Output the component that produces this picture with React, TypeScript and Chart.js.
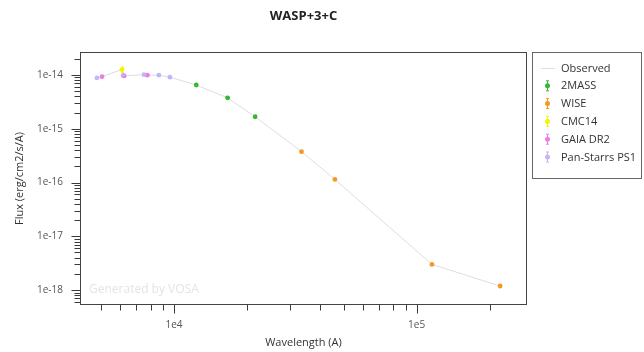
import React, { useEffect, useRef } from 'react';
import { Chart, registerables } from 'chart.js';

Chart.register(...registerables);

const FONT = '"Open Sans", sans-serif';

// ---- Data (wavelength in Å, flux in erg/cm2/s/A) ----
const chartTitle = 'WASP+3+C';
const xTitle = 'Wavelength (A)';
const yTitle = 'Flux (erg/cm2/s/A)';
const observedLabel = 'Observed';
const watermark = 'Generated by VOSA';

const seriesNames = ['2MASS', 'WISE', 'CMC14', 'GAIA DR2', 'Pan-Starrs PS1'];
const seriesColors = ['#35b835', '#f59a1e', '#f4f400', '#e87ee8', '#c4b6f4'];

const wl2MASS = [12350, 16620, 21590];
const flux2MASS = [6.5e-15, 3.75e-15, 1.67e-15];
const err2MASS = [1.4e-16, 8e-17, 4e-17];

const wlWISE = [33526, 46028, 115608, 220883];
const fluxWISE = [3.75e-16, 1.14e-16, 3.0e-18, 1.19e-18];
const errWISE = [8e-18, 2.5e-18, 1.2e-19, 8e-20];

const wlCMC14 = [6100];
const fluxCMC14 = [1.26e-14];
const errCMC14 = [1.4e-15];

const wlGAIA = [5050, 6230, 7770];
const fluxGAIA = [9.3e-15, 9.6e-15, 9.9e-15];
const errGAIA = [2e-16, 1e-16, 2e-16];

const wlPS1 = [4810, 6170, 7520, 8660, 9620];
const fluxPS1 = [8.8e-15, 9.8e-15, 1.01e-14, 9.9e-15, 9.1e-15];
const errPS1 = [2e-16, 2e-16, 2e-16, 2e-16, 2e-16];

const seriesWl = [wl2MASS, wlWISE, wlCMC14, wlGAIA, wlPS1];
const seriesFlux = [flux2MASS, fluxWISE, fluxCMC14, fluxGAIA, fluxPS1];
const seriesErr = [err2MASS, errWISE, errCMC14, errGAIA, errPS1];

// axis ranges
const X_MIN = 4097;
const X_MAX = 2.85e5;
const Y_MIN = 5.28e-19;
const Y_MAX = 2.67e-14;

const FRAME = '#444444';
const TICK_COLOR = '#3a3a3a';
const TEXT = '#333333';

function logTicks(min: number, max: number) {
  const out: { value: number; major: boolean }[] = [];
  const e0 = Math.floor(Math.log10(min));
  const e1 = Math.ceil(Math.log10(max));
  for (let e = e0; e <= e1; e++) {
    for (let m = 1; m <= 9; m++) {
      const v = m * Math.pow(10, e);
      if (v >= min && v <= max) out.push({ value: v, major: m === 1 });
    }
  }
  return out;
}

function decadeLabel(v: number) {
  const e = Math.round(Math.log10(v));
  if (Math.abs(v / Math.pow(10, e) - 1) < 1e-6) return '1e' + e;
  return '';
}

const framePlugin = {
  id: 'frameAndTicks',
  afterDraw(chart: any) {
    const { ctx, chartArea: a } = chart;
    ctx.save();
    ctx.lineWidth = 1;
    const l = Math.round(a.left) + 0.5;
    const t = Math.round(a.top) + 0.5;
    const r = Math.round(a.right) - 0.5;
    const b = Math.round(a.bottom) - 0.5;
    const xs = chart.scales.x;
    const ys = chart.scales.y;
    // tick marks outside the frame, longer at decades
    ctx.strokeStyle = TICK_COLOR;
    ctx.beginPath();
    logTicks(X_MIN, X_MAX).forEach((tk) => {
      const len = tk.major ? 9 : 6;
      const px = Math.round(xs.getPixelForValue(tk.value)) + 0.5;
      ctx.moveTo(px, b);
      ctx.lineTo(px, b + len);
    });
    logTicks(Y_MIN, Y_MAX).forEach((tk) => {
      const len = tk.major ? 9 : 6;
      const py = Math.round(ys.getPixelForValue(tk.value)) + 0.5;
      ctx.moveTo(l, py);
      ctx.lineTo(l - len, py);
    });
    ctx.stroke();
    ctx.strokeStyle = FRAME;
    ctx.strokeRect(l, t, r - l, b - t);
    ctx.restore();
  },
};

const watermarkPlugin = {
  id: 'watermark',
  beforeDatasetsDraw(chart: any) {
    const { ctx, chartArea: a } = chart;
    ctx.save();
    ctx.fillStyle = '#e4e4e4';
    ctx.font = '12px ' + FONT;
    ctx.textBaseline = 'middle';
    ctx.textAlign = 'left';
    ctx.fillText(watermark, a.left + 9, a.bottom - 15);
    ctx.restore();
  },
};

const errorBarPlugin = {
  id: 'errorBars',
  afterDatasetsDraw(chart: any) {
    const { ctx } = chart;
    const xs = chart.scales.x;
    const ys = chart.scales.y;
    ctx.save();
    ctx.lineWidth = 1;
    chart.data.datasets.forEach((ds: any) => {
      if (!ds.errors) return;
      ctx.strokeStyle = ds.borderColor;
      ds.data.forEach((p: any, j: number) => {
        const e = ds.errors[j];
        const px = Math.round(xs.getPixelForValue(p.x)) + 0.5;
        const y1 = ys.getPixelForValue(p.y + e);
        const y2 = ys.getPixelForValue(Math.max(p.y - e, 1e-30));
        ctx.beginPath();
        ctx.moveTo(px, y1);
        ctx.lineTo(px, y2);
        ctx.moveTo(px - 1.5, y1);
        ctx.lineTo(px + 1.5, y1);
        ctx.moveTo(px - 1.5, y2);
        ctx.lineTo(px + 1.5, y2);
        ctx.stroke();
      });
    });
    ctx.restore();
  },
};

const legendPlugin = {
  id: 'boxLegend',
  afterDraw(chart: any) {
    const { ctx, chartArea: a } = chart;
    const left = Math.round(a.right) + 5;
    const top = Math.round(a.top);
    const w = 109;
    const h = 126;
    ctx.save();
    ctx.fillStyle = '#ffffff';
    ctx.fillRect(left, top, w, h);
    ctx.strokeStyle = '#666666';
    ctx.lineWidth = 1;
    ctx.strokeRect(left + 0.5, top + 0.5, w, h);
    ctx.font = '11px ' + FONT;
    ctx.textBaseline = 'middle';
    ctx.textAlign = 'left';
    chart.data.datasets.forEach((ds: any, i: number) => {
      const y = top + 16 + i * 17.8;
      const mx = left + 15.5;
      if (ds.type === 'line') {
        ctx.strokeStyle = ds.borderColor;
        ctx.beginPath();
        ctx.moveTo(left + 9, Math.round(y) + 0.5);
        ctx.lineTo(left + 23, Math.round(y) + 0.5);
        ctx.stroke();
      } else {
        ctx.strokeStyle = ds.borderColor;
        ctx.beginPath();
        ctx.moveTo(mx, y - 5);
        ctx.lineTo(mx, y + 5);
        ctx.moveTo(mx - 1.5, y - 5);
        ctx.lineTo(mx + 1.5, y - 5);
        ctx.moveTo(mx - 1.5, y + 5);
        ctx.lineTo(mx + 1.5, y + 5);
        ctx.stroke();
        ctx.fillStyle = ds.backgroundColor;
        ctx.beginPath();
        ctx.arc(mx, y, 2.5, 0, Math.PI * 2);
        ctx.fill();
      }
      ctx.fillStyle = TEXT;
      ctx.fillText(ds.label, left + 29, y + 0.5);
    });
    ctx.restore();
  },
};

export default function App() {
  const canvasRef = useRef<HTMLCanvasElement | null>(null);

  useEffect(() => {
    if (!canvasRef.current) return;
    Chart.defaults.font.family = FONT;

    const pointSets = seriesNames.map((name, i) => ({
      type: 'scatter' as const,
      label: name,
      data: seriesWl[i].map((x, j) => ({ x, y: seriesFlux[i][j] })),
      errors: seriesErr[i],
      borderColor: seriesColors[i],
      backgroundColor: seriesColors[i],
      pointRadius: 2.4,
      pointBorderWidth: 0,
      order: 0,
    }));

    const allPts: { x: number; y: number }[] = [];
    seriesNames.forEach((_, i) =>
      seriesWl[i].forEach((x, j) => allPts.push({ x, y: seriesFlux[i][j] }))
    );
    allPts.sort((p, q) => p.x - q.x);

    const observed = {
      type: 'line' as const,
      label: observedLabel,
      data: allPts,
      borderColor: '#dcdce6',
      backgroundColor: '#dcdce6',
      borderWidth: 1,
      pointRadius: 0,
      tension: 0,
      order: 1,
    };

    const hiddenGrid = {
      display: true,
      drawOnChartArea: false,
      drawTicks: true,
      tickLength: 5,
      tickColor: 'rgba(0,0,0,0)',
      color: 'rgba(0,0,0,0)',
    };

    const chart = new Chart(canvasRef.current, {
      type: 'scatter',
      data: { datasets: [observed as any, ...pointSets] },
      options: {
        animation: false,
        responsive: false,
        layout: { padding: { left: 0, right: 117, top: 0, bottom: 0 } },
        plugins: {
          legend: { display: false },
          tooltip: { enabled: false },
          title: {
            display: true,
            text: chartTitle,
            fullSize: false,
            color: '#222222',
            font: { family: FONT, size: 13, weight: 'bold' },
            padding: { top: 8, bottom: 28.4 },
          },
        },
        scales: {
          x: {
            type: 'logarithmic',
            min: X_MIN,
            max: X_MAX,
            afterBuildTicks: (s: any) => {
              s.ticks = logTicks(X_MIN, X_MAX);
            },
            afterFit: (s: any) => {
              s.height = 47;
            },
            border: { display: false },
            grid: hiddenGrid,
            ticks: {
              autoSkip: false,
              maxRotation: 0,
              minRotation: 0,
              padding: 9,
              color: '#555555',
              font: { family: FONT, size: 10 },
              callback: (v: any) => decadeLabel(Number(v)),
            },
            title: {
              display: true,
              text: xTitle,
              color: TEXT,
              font: { family: FONT, size: 11 },
              padding: { top: 0, bottom: 2.4 },
            },
          },
          y: {
            type: 'logarithmic',
            min: Y_MIN,
            max: Y_MAX,
            afterBuildTicks: (s: any) => {
              s.ticks = logTicks(Y_MIN, Y_MAX);
            },
            afterFit: (s: any) => {
              s.width = 80;
            },
            border: { display: false },
            grid: hiddenGrid,
            ticks: {
              autoSkip: false,
              padding: 12,
              color: '#555555',
              font: { family: FONT, size: 10 },
              callback: (v: any) => decadeLabel(Number(v)),
            },
            title: {
              display: true,
              text: yTitle,
              color: TEXT,
              font: { family: FONT, size: 11 },
              padding: { top: 13.4, bottom: 0 },
            },
          },
        },
      } as any,
      plugins: [watermarkPlugin, errorBarPlugin, framePlugin, legendPlugin],
    });

    return () => chart.destroy();
  }, []);

  return (
    <div style={{ position: 'fixed', left: 0, top: 0, width: 644, height: 352, background: '#fff' }}>
      <canvas ref={canvasRef} width={644} height={352} style={{ display: 'block' }} />
    </div>
  );
}
